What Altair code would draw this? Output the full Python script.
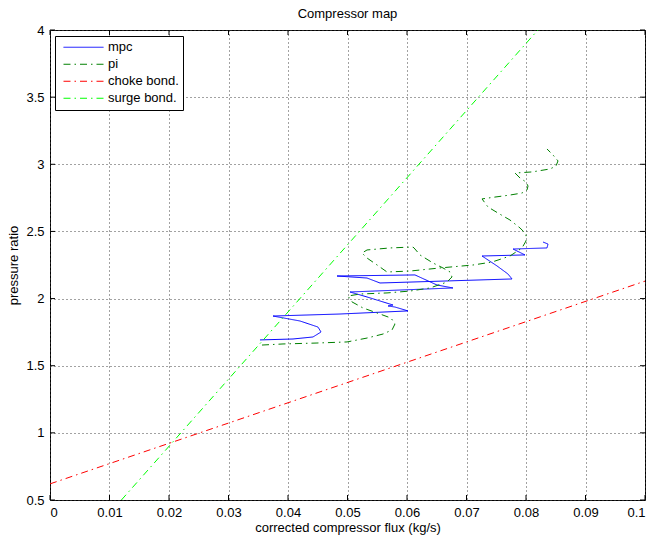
import altair as alt
import pandas as pd

# ---- data ----
mpc_x = [0.03529, 0.04084, 0.04420, 0.04555, 0.04504, 0.04202, 0.03748, 0.04874,
         0.06017, 0.05798, 0.05681, 0.05765, 0.05328, 0.05042, 0.06773, 0.06504,
         0.06134, 0.04824, 0.05328, 0.05546, 0.07765, 0.07697, 0.07513, 0.07261,
         0.07983, 0.07782, 0.08353, 0.08370, 0.08286]
mpc_y = [1.692, 1.699, 1.714, 1.751, 1.788, 1.833, 1.870, 1.885,
         1.908, 1.937, 1.945, 1.952, 2.012, 2.049, 2.079, 2.101,
         2.176, 2.168, 2.153, 2.116, 2.146, 2.183, 2.243, 2.317,
         2.325, 2.369, 2.377, 2.406, 2.421]

pi_x = [0.03563, 0.03916, 0.04487, 0.04992, 0.05328, 0.05597, 0.05748, 0.05798,
        0.05731, 0.05496, 0.05261, 0.05076, 0.05008, 0.05210, 0.05664, 0.06050,
        0.06387, 0.06672, 0.06756, 0.06723, 0.06605, 0.06437, 0.06218, 0.06134,
        0.06101, 0.05714, 0.05328, 0.05244, 0.05328, 0.05546, 0.05664, 0.06050,
        0.06555, 0.07109, 0.07429, 0.07731, 0.07933, 0.08000, 0.08000, 0.07899,
        0.07731, 0.07529, 0.07361, 0.07261, 0.07479, 0.07731, 0.07933, 0.08017,
        0.08034, 0.08000, 0.07899, 0.07815, 0.08101, 0.08403, 0.08504, 0.08538,
        0.08454, 0.08353]
pi_y = [1.654, 1.662, 1.669, 1.677, 1.706, 1.736, 1.766, 1.811,
        1.855, 1.893, 1.930, 1.975, 2.019, 2.034, 2.042, 2.056,
        2.079, 2.123, 2.161, 2.198, 2.228, 2.265, 2.325, 2.369,
        2.384, 2.377, 2.362, 2.339, 2.302, 2.235, 2.198, 2.205,
        2.228, 2.250, 2.272, 2.317, 2.377, 2.429, 2.481, 2.526,
        2.585, 2.637, 2.682, 2.742, 2.756, 2.771, 2.786, 2.809,
        2.838, 2.868, 2.898, 2.935, 2.943, 2.965, 2.987, 3.025,
        3.069, 3.114]

choke_x = [0.0, 0.1]
choke_y = [0.62, 2.13]

surge_x = [0.0120, 0.0820]
surge_y = [0.5, 4.0]

x_ticks = [0, 0.01, 0.02, 0.03, 0.04, 0.05, 0.06, 0.07, 0.08, 0.09, 0.1]
y_ticks = [0.5, 1, 1.5, 2, 2.5, 3, 3.5, 4]

series_names = ["mpc", "pi", "choke bond.", "surge bond."]
series_colors = ["#0000ff", "#008000", "#ff0000", "#00ff00"]
dash_dot = [7, 4, 1.5, 4]
series_dashes = [[1, 0], dash_dot, dash_dot, dash_dot]

rows = []
for name, xs, ys in [("mpc", mpc_x, mpc_y), ("pi", pi_x, pi_y),
                     ("choke bond.", choke_x, choke_y), ("surge bond.", surge_x, surge_y)]:
    for i, (xv, yv) in enumerate(zip(xs, ys)):
        rows.append({"series": name, "idx": i, "x": xv, "y": yv})
df = pd.DataFrame(rows)

W, H = 595, 470
FONT = "Liberation Sans"
FS = 13

xscale = alt.Scale(domain=[0, 0.1], nice=False, zero=False)
yscale = alt.Scale(domain=[0.5, 4], nice=False, zero=False)

lines = alt.Chart(df).mark_line(strokeWidth=1, clip=True).encode(
    x=alt.X("x:Q", scale=xscale,
            axis=alt.Axis(values=x_ticks, format=".2~f", title="corrected compressor flux (kg/s)",
                          grid=True, ticks=False, domain=False, labelPadding=6, titlePadding=2,
                          titleFontWeight="normal")),
    y=alt.Y("y:Q", scale=yscale,
            axis=alt.Axis(values=y_ticks, format=".1~f", title="pressure ratio",
                          grid=True, ticks=False, domain=False, labelPadding=6, titlePadding=5,
                          titleFontWeight="normal")),
    color=alt.Color("series:N", scale=alt.Scale(domain=series_names, range=series_colors),
                    legend=alt.Legend(title=None, orient="none", legendX=5, legendY=6,
                                      symbolType="stroke", symbolSize=1600, symbolStrokeWidth=1,
                                      symbolOffset=4,
                                      clipHeight=14.5, rowPadding=2,
                                      labelFontSize=FS, labelFont=FONT, labelColor="black",
                                      padding=4, strokeColor="black", fillColor="white",
                                      labelOffset=4, cornerRadius=0)),
    strokeDash=alt.StrokeDash("series:N", scale=alt.Scale(domain=series_names, range=series_dashes),
                              legend=None),
    order=alt.Order("idx:Q"),
)

xt = pd.DataFrame({"t": x_ticks})
yt = pd.DataFrame({"t": y_ticks})
tick_col = "black"
xt_bottom = alt.Chart(xt).mark_rule(color=tick_col, strokeWidth=1).encode(
    x=alt.X("t:Q", scale=xscale), y=alt.value(H), y2=alt.value(H - 5))
xt_top = alt.Chart(xt).mark_rule(color=tick_col, strokeWidth=1).encode(
    x=alt.X("t:Q", scale=xscale), y=alt.value(0), y2=alt.value(5))
yt_left = alt.Chart(yt).mark_rule(color=tick_col, strokeWidth=1).encode(
    y=alt.Y("t:Q", scale=yscale), x=alt.value(0), x2=alt.value(5))
yt_right = alt.Chart(yt).mark_rule(color=tick_col, strokeWidth=1).encode(
    y=alt.Y("t:Q", scale=yscale), x=alt.value(W), x2=alt.value(W - 5))

chart = alt.layer(lines, xt_bottom, xt_top, yt_left, yt_right).properties(
    width=W, height=H,
    background="white",
    title=alt.TitleParams("Compressor map", fontSize=FS, fontWeight="normal", font=FONT,
                          color="black", offset=3),
    autosize=alt.AutoSizeParams(type="none"),
    padding={"left": 50, "top": 30, "right": 9, "bottom": 37},
).configure_view(stroke="black", strokeWidth=1).configure_axis(
    labelFont=FONT, titleFont=FONT, labelFontSize=FS, titleFontSize=FS,
    labelColor="black", titleColor="black", titleFontWeight="normal",
    gridColor="#444444", gridDash=[1, 3], gridWidth=1, gridOpacity=1,
)

chart.save("out.html", embed_options={"renderer": "svg", "actions": False})
